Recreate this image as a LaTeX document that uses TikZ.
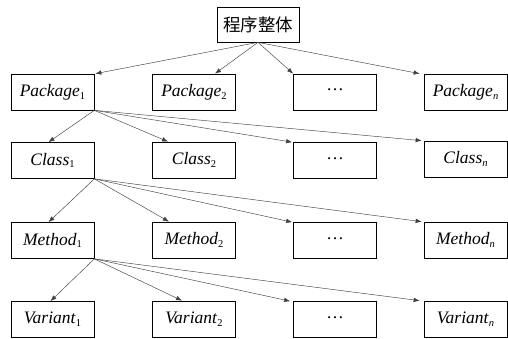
\documentclass[tikz,border=0pt]{standalone}
\usepackage{fontspec}
\setmainfont{Liberation Serif}
\newfontfamily\tnr{Liberation Serif}
\newfontfamily\cjk{Noto Sans CJK SC}
\usetikzlibrary{arrows.meta}
\newcommand{\lbl}[2]{\textit{#1}\raisebox{-0.35ex}{\fontsize{10.5}{10.5}\selectfont #2}}
\newcommand{\dotsbox}{\raisebox{0.25em}{…}}
\tikzset{
  box/.style={draw=black, line width=0.7pt, minimum width=83pt, minimum height=36pt, inner sep=0pt, font=\tnr\fontsize{17.5}{17.5}\selectfont},
  topbox/.style={draw=black, line width=0.7pt, minimum width=82pt, minimum height=35pt, inner sep=0pt, font=\cjk\fontsize{17.5}{17.5}\selectfont},
  conn/.style={draw=black!75, line width=0.45pt, -{Latex[length=6pt,width=4.5pt]}}
}
\begin{document}
\begin{tikzpicture}[x=1pt,y=-1pt]
\useasboundingbox (0,0) rectangle (508,339);
\node[topbox] (top) at (258,24.5) {程序整体};
% row 1
\node[box] (p1) at (52.5,92) {\lbl{Package}{1}};
\node[box] (p2) at (194,92) {\lbl{Package}{2}};
\node[box] (p3) at (335,92) {\dotsbox};
\node[box] (p4) at (465.5,92) {\lbl{Package}{\textit{n}}};
% row 2
\node[box] (c1) at (52.5,160.5) {\lbl{Class}{1}};
\node[box] (c2) at (194,160) {\lbl{Class}{2}};
\node[box] (c3) at (335,160.5) {\dotsbox};
\node[box] (c4) at (465.5,159) {\lbl{Class}{\textit{n}}};
% row 3
\node[box] (m1) at (52.5,240.5) {\lbl{Method}{1}};
\node[box] (m2) at (194,240) {\lbl{Method}{2}};
\node[box] (m3) at (335,240.5) {\dotsbox};
\node[box] (m4) at (465.5,240) {\lbl{Method}{\textit{n}}};
% row 4
\node[box] (v1) at (52.5,319.5) {\lbl{Variant}{1}};
\node[box] (v2) at (194,319) {\lbl{Variant}{2}};
\node[box] (v3) at (335,319.5) {\dotsbox};
\node[box] (v4) at (465.5,319) {\lbl{Variant}{\textit{n}}};
% connectors
\draw[conn] (top.south) -- ([xshift=1pt]p1.north east);
\draw[conn] (top.south) -- ([xshift=21pt]p2.north);
\draw[conn] (top.south) -- (p3.north west);
\draw[conn] (top.south) -- ([xshift=-4pt]p4.north west);
\draw[conn] (p1.south east) -- ([xshift=-4pt]c1.north);
\draw[conn] (p1.south east) -- ([xshift=-26pt]c2.north);
\draw[conn] (p1.south east) -- ([xshift=-1pt]c3.north west);
\draw[conn] (p1.south east) -- ([xshift=-2pt]c4.north west);
\draw[conn] (c1.south east) -- ([xshift=-4pt]m1.north);
\draw[conn] (c1.south east) -- ([xshift=-25pt]m2.north);
\draw[conn] (c1.south east) -- ([xshift=-1pt]m3.north west);
\draw[conn] (c1.south east) -- ([xshift=-2pt]m4.north west);
\draw[conn] (m1.south east) -- ([xshift=-2pt]v1.north);
\draw[conn] (m1.south east) -- ([xshift=-12pt]v2.north);
\draw[conn] (m1.south east) -- ([xshift=-3pt]v3.north west);
\draw[conn] (m1.south east) -- ([xshift=-4pt]v4.north west);
\end{tikzpicture}
\end{document}
